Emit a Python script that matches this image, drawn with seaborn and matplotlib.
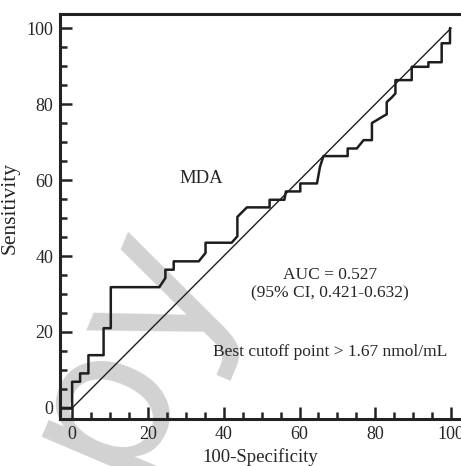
import matplotlib
matplotlib.use("Agg")
import matplotlib.pyplot as plt
import seaborn as sns
import pandas as pd
from matplotlib.ticker import MultipleLocator

# ROC curve points (100-Specificity, Sensitivity)
spec_100 = [-3, 0, 0, 2.1, 2.1, 4.3, 4.3, 8.3, 8.3, 10.2, 10.2, 23.0, 24.6, 24.6,
            26.8, 26.8, 33.4, 35.2, 35.2, 42.1, 43.6, 43.6, 46.1, 52.1, 52.1,
            56.0, 56.4, 60.2, 60.2, 64.6, 65.4, 66.3, 72.7, 72.7, 75.1, 76.9,
            79.1, 79.1, 82.1, 83.0, 83.0, 84.4, 85.3, 85.3, 89.6, 89.6, 94.0,
            94.0, 97.5, 97.5, 99.7, 99.7]
sensitivity = [0, 0, 6.9, 6.9, 9.1, 9.1, 13.9, 13.9, 21.0, 21.0, 31.8, 31.8, 34.2, 36.4,
               36.4, 38.6, 38.6, 40.8, 43.5, 43.5, 45.2, 50.3, 52.8, 52.8, 54.8,
               54.8, 57.0, 57.0, 59.1, 59.1, 63.5, 66.3, 66.3, 68.3, 68.3, 70.5,
               70.5, 75.0, 76.8, 77.3, 80.5, 81.8, 82.8, 86.3, 86.3, 89.8, 89.8,
               91.0, 91.0, 96.0, 96.0, 100.0]
ref_line = [0, 100]

auc_text = "AUC = 0.527\n(95% CI, 0.421-0.632)"
cutoff_text = "Best cutoff point > 1.67 nmol/mL"

sns.set_style("ticks")
plt.rcParams["font.family"] = ["Liberation Serif", "DejaVu Serif"]

fig = plt.figure(figsize=(4.61, 4.66), dpi=100)
ax = fig.add_axes([60 / 461, 1 - 419 / 466, 1 - 60 / 461, (419 - 14) / 466])
ax.set_facecolor("none")

roc = pd.DataFrame({"x": spec_100, "y": sensitivity})
sns.lineplot(data=roc, x="x", y="y", sort=False, estimator=None,
             color="#1e1e1e", linewidth=1.8, ax=ax)
sns.lineplot(x=ref_line, y=ref_line, color="#1e1e1e", linewidth=1.0, ax=ax)

ax.set_xlim(-3.2, 102.6)
ax.set_ylim(-2.9, 103.7)
ax.xaxis.set_major_locator(MultipleLocator(20))
ax.xaxis.set_minor_locator(MultipleLocator(5))
ax.yaxis.set_major_locator(MultipleLocator(20))
ax.yaxis.set_minor_locator(MultipleLocator(5))
ax.tick_params(which="major", direction="in", length=8.5, width=1.8,
               labelsize=13, pad=5, color="#222222")
ax.tick_params(which="minor", direction="in", length=5, width=1.8, color="#222222")

for side in ["left", "bottom", "top"]:
    ax.spines[side].set_linewidth(2.2)
    ax.spines[side].set_color("#222222")
ax.spines["right"].set_visible(False)

ax.set_xlabel("100-Specificity", fontsize=13.5, labelpad=4)
ax.set_ylabel("Sensitivity", fontsize=15.5, labelpad=2)
ax.yaxis.set_label_coords(-0.1, 0.52)

ax.text(34, 60.5, "MDA", fontsize=13.5, ha="center", va="center")
ax.text(68, 32.5, auc_text, fontsize=12.5, ha="center", va="center", linespacing=1.2)
ax.text(68, 14.8, cutoff_text, fontsize=12.5, ha="center", va="center")

# light watermark behind the chart
fig.text(0.165, -0.01, "Copy", fontsize=145, color="#d2d2d2", rotation=67,
         ha="center", va="center", family="DejaVu Sans", zorder=-1)

fig.savefig("out.png", dpi=100)
